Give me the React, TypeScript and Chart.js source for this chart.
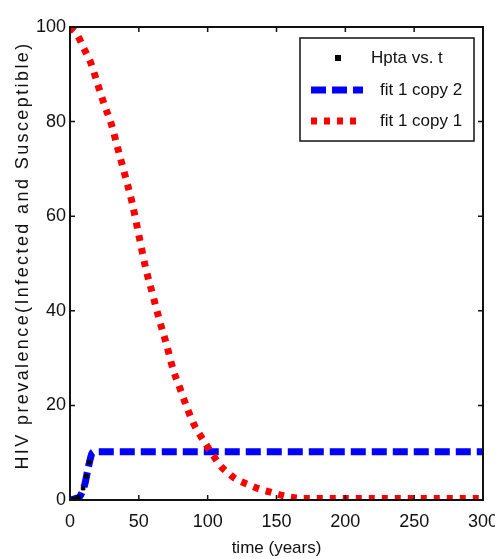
import React, { useEffect, useRef } from "react";
import { Chart, registerables } from "chart.js";

Chart.register(...registerables);

// Susceptible share (fit 1 copy 1)
const susceptibleYears = [0, 5, 10, 15, 20, 25, 30, 35, 40, 45, 50, 55, 60, 65, 70, 75, 80, 85, 90, 95, 100, 105, 110, 115, 120, 125, 130, 135, 140, 145, 150, 155, 160, 165, 170, 175, 180, 200, 250, 300];
const susceptibleValues = [100, 98.5, 95.5, 92.5, 88, 83.5, 79.5, 74, 68.6, 63, 56, 49, 43.5, 38, 33, 27.5, 23.5, 19.5, 16, 13.5, 11.2, 9, 7, 5.7, 4.5, 3.8, 3.2, 2.6, 2.1, 1.7, 1.3, 0.9, 0.6, 0.4, 0.3, 0.3, 0.3, 0.3, 0.3, 0.3];

// Infected share (fit 1 copy 2)
const infectedYears = [0, 4, 7, 9, 11, 13, 15, 16, 18, 20, 300];
const infectedValues = [0, 0.3, 0.7, 1.8, 3.6, 6.5, 9, 9.9, 10.2, 10.2, 10.2];

// Observed points (Hpta vs. t)
const observedYears = [0, 3, 6, 9.5, 12, 14];
const observedValues = [0, 0.2, 0.6, 2.5, 5, 8];

const xTicks = [0, 50, 100, 150, 200, 250, 300];
const yTicks = [0, 20, 40, 60, 80, 100];

const seriesLabels = ["Hpta vs. t", "fit 1 copy 2", "fit 1 copy 1"];
const xTitle = "time (years)";
const yTitle = "HIV prevalence(Infected and Susceptible)";

const FONT = "'Liberation Sans Narrow', 'Liberation Sans', Arial, sans-serif";

const toPoints = (xs: number[], ys: number[]) => xs.map((x, i) => ({ x, y: ys[i] }));

const framePlugin = {
  id: "frameAndLegend",
  afterDraw(chart: any) {
    const { ctx, chartArea } = chart;
    const { left, right, top, bottom } = chartArea;
    const xs = chart.scales.x;
    const ys = chart.scales.y;
    ctx.save();
    ctx.strokeStyle = "#111";
    ctx.lineWidth = 2;
    ctx.strokeRect(left, top, right - left, bottom - top);
    // inward tick marks on all four sides
    ctx.lineWidth = 1.5;
    const tl = 5;
    ctx.beginPath();
    xTicks.forEach((v) => {
      const px = xs.getPixelForValue(v);
      ctx.moveTo(px, bottom);
      ctx.lineTo(px, bottom - tl);
      ctx.moveTo(px, top);
      ctx.lineTo(px, top + tl);
    });
    yTicks.forEach((v) => {
      const py = ys.getPixelForValue(v);
      ctx.moveTo(left, py);
      ctx.lineTo(left + tl, py);
      ctx.moveTo(right, py);
      ctx.lineTo(right - tl, py);
    });
    ctx.stroke();

    // axis titles
    ctx.fillStyle = "#111";
    ctx.font = `17px ${FONT}`;
    ctx.textAlign = "center";
    ctx.textBaseline = "middle";
    ctx.fillText(xTitle, (left + right) / 2, 548);
    ctx.save();
    ctx.translate(23, (top + bottom) / 2 - 8);
    ctx.rotate(-Math.PI / 2);
    ctx.font = `18px ${FONT}`;
    (ctx as any).letterSpacing = "2.4px";
    ctx.fillText(yTitle, 0, 0);
    ctx.restore();

    // legend box in the upper right corner
    const bx = right - 183;
    const by = top + 11;
    const bw = 174;
    const bh = 103;
    ctx.fillStyle = "#fff";
    ctx.fillRect(bx, by, bw, bh);
    ctx.strokeStyle = "#111";
    ctx.lineWidth = 1.5;
    ctx.strokeRect(bx, by, bw, bh);
    const rows = [by + 20, by + 52, by + 83];
    chart.data.datasets.forEach((ds: any, i: number) => {
      const y = rows[i];
      if (ds.showLine === false) {
        ctx.fillStyle = ds.pointBackgroundColor;
        ctx.fillRect(bx + 35, y - 3, 6, 6);
      } else {
        ctx.save();
        ctx.strokeStyle = ds.borderColor;
        ctx.lineWidth = ds.borderWidth;
        ctx.lineCap = "butt";
        ctx.setLineDash(ds.borderDash);
        ctx.beginPath();
        ctx.moveTo(bx + 11, y);
        ctx.lineTo(bx + 63, y);
        ctx.stroke();
        ctx.restore();
      }
      ctx.fillStyle = "#111";
      ctx.font = `17px ${FONT}`;
      ctx.textAlign = "left";
      ctx.textBaseline = "middle";
      ctx.fillText(ds.label, ds.showLine === false ? bx + 71 : bx + 80, y);
    });
    ctx.restore();
  },
};

export default function App() {
  const canvasRef = useRef<HTMLCanvasElement | null>(null);

  useEffect(() => {
    const canvas = canvasRef.current;
    if (!canvas) return;
    const chart = new Chart(canvas, {
      type: "line",
      data: {
        datasets: [
          {
            label: seriesLabels[0],
            data: toPoints(observedYears, observedValues),
            showLine: false,
            pointStyle: "rect",
            pointRadius: 2.5,
            pointBackgroundColor: "#000",
            pointBorderColor: "#000",
            borderColor: "#000",
            order: 0,
          },
          {
            label: seriesLabels[1],
            data: toPoints(infectedYears, infectedValues),
            borderColor: "#0000ff",
            borderWidth: 7,
            borderDash: [15, 6],
            borderCapStyle: "butt",
            pointRadius: 0,
            cubicInterpolationMode: "monotone",
            order: 2,
          },
          {
            label: seriesLabels[2],
            data: toPoints(susceptibleYears, susceptibleValues),
            borderColor: "#ff0000",
            borderWidth: 7,
            borderDash: [6, 7],
            borderCapStyle: "butt",
            pointRadius: 0,
            cubicInterpolationMode: "monotone",
            order: 1,
          },
        ],
      },
      options: {
        animation: false,
        responsive: false,
        maintainAspectRatio: false,
        layout: { padding: { left: 0, top: 27, right: 12, bottom: 0 } },
        plugins: { legend: { display: false }, tooltip: { enabled: false } },
        scales: {
          x: {
            type: "linear",
            min: 0,
            max: 300,
            afterBuildTicks: (s: any) => {
              s.ticks = xTicks.map((v) => ({ value: v }));
            },
            afterFit: (s: any) => {
              s.height = 59;
              s.paddingLeft = 0;
              s.paddingRight = 0;
            },
            grid: { display: false, drawTicks: false },
            border: { display: false },
            ticks: { color: "#111", padding: 11, font: { family: FONT, size: 18 }, maxRotation: 0 },
          },
          y: {
            type: "linear",
            min: 0,
            max: 100,
            afterBuildTicks: (s: any) => {
              s.ticks = yTicks.map((v) => ({ value: v }));
            },
            afterFit: (s: any) => {
              s.width = 70;
              s.paddingTop = 0;
              s.paddingBottom = 0;
            },
            grid: { display: false, drawTicks: false },
            border: { display: false },
            ticks: { color: "#111", padding: 4, font: { family: FONT, size: 18 } },
          },
        },
      },
      plugins: [framePlugin],
    });
    return () => chart.destroy();
  }, []);

  return (
    <div style={{ position: "fixed", left: 0, top: 0, width: 495, height: 559, background: "#fff" }}>
      <canvas ref={canvasRef} width={495} height={559} />
    </div>
  );
}
